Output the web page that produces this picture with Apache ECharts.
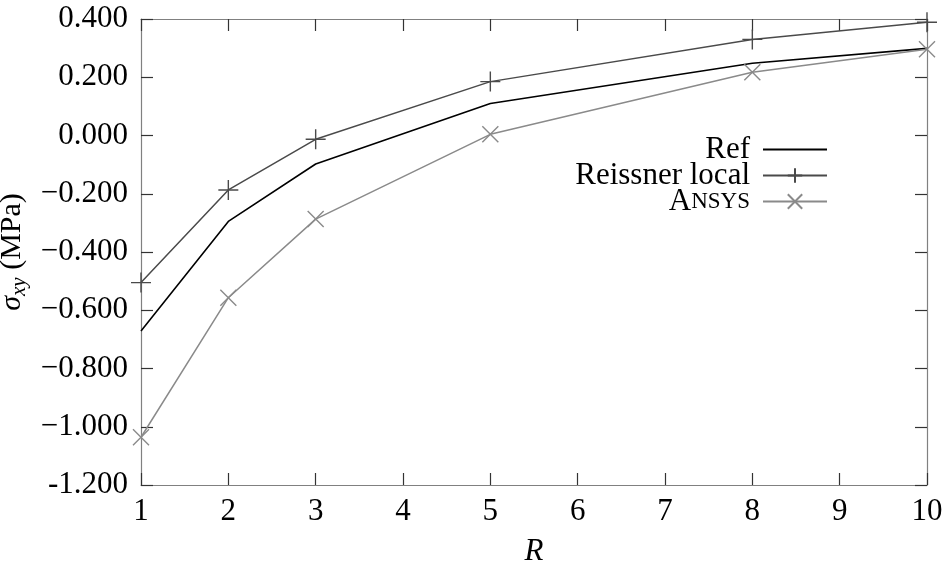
<!DOCTYPE html>
<html>
<head>
<meta charset="utf-8">
<script src="https://cdn.jsdelivr.net/npm/echarts@6/dist/echarts.min.js"></script>
<style>html,body{margin:0;padding:0;background:#fff}#c{width:944px;height:564px}</style>
</head>
<body>
<div id="c"></div>
<script>
var rValues = [1, 2, 3, 5, 8, 10];
var refValues = [-0.671, -0.295, -0.098, 0.110, 0.248, 0.299];
var reissnerValues = [-0.505, -0.187, -0.013, 0.185, 0.330, 0.389];
var ansysValues = [-1.036, -0.557, -0.287, 0.004, 0.217, 0.296];
var xTickLabels = ['1','2','3','4','5','6','7','8','9','10'];
var yTickLabels = ['-1.200','\u22121.000','\u22120.800','\u22120.600','\u22120.400','\u22120.200','0.000','0.200','0.400'];

var FONT = '"Liberation Serif", "DejaVu Serif", serif';
function pairs(vals){ return rValues.map(function(x,i){ return [x, vals[i]]; }); }

var chart = echarts.init(document.getElementById('c'), null, {renderer:'canvas'});
var axisLine = {show:true, onZero:false, lineStyle:{color:'#808080', width:1.2}};
var tick = {show:true, inside:true, length:12, lineStyle:{color:'#333', width:1.2}};
var option = {
  animation:false,
  backgroundColor:'#fff',
  grid:{left:141, right:17, top:19, bottom:79, containLabel:false, outerBoundsMode:'none'},
  xAxis:[{
    type:'value', min:1, max:10, interval:1, position:'bottom',
    axisLine:axisLine, axisTick:tick, splitLine:{show:false},
    axisLabel:{margin:11, color:'#000', fontFamily:FONT, fontSize:31,
      formatter:function(v){ return xTickLabels[Math.round(v)-1]; }},
    name:'R', nameLocation:'middle', nameGap:51,
    nameTextStyle:{fontFamily:FONT, fontSize:31, fontStyle:'italic', color:'#000'}
  },{
    type:'value', min:1, max:10, interval:1, position:'top',
    axisLine:axisLine, axisTick:tick, splitLine:{show:false}, axisLabel:{show:false}
  }],
  yAxis:[{
    type:'value', min:-1.2, max:0.4, interval:0.2, position:'left',
    axisLine:axisLine, axisTick:tick, splitLine:{show:false},
    axisLabel:{margin:13, color:'#000', fontFamily:FONT, fontSize:31,
      formatter:function(v){ return yTickLabels[Math.round((v+1.2)/0.2)]; }},
    name:'{s|\u03c3}{sub|xy}{t| (MPa)}', nameLocation:'middle', nameRotate:90, nameGap:88,
    nameTextStyle:{fontFamily:FONT, color:'#000',
      rich:{
        s:{fontFamily:FONT, fontSize:30, fontStyle:'italic', color:'#000'},
        sub:{fontFamily:FONT, fontSize:21, fontStyle:'italic', color:'#000', padding:[14,0,0,0]},
        t:{fontFamily:FONT, fontSize:30, color:'#000'}
      }}
  },{
    type:'value', min:-1.2, max:0.4, interval:0.2, position:'right',
    axisLine:axisLine, axisTick:tick, splitLine:{show:false}, axisLabel:{show:false}
  }],
  legend:{
    orient:'vertical', right:111, top:129, align:'right',
    itemWidth:64, itemHeight:18, itemGap:-5,
    selectedMode:false,
    textStyle:{fontFamily:FONT, fontSize:31, color:'#000', lineHeight:26, padding:[0,8,0,0],
      rich:{
        a:{fontFamily:FONT, fontSize:31, color:'#000', lineHeight:26},
        b:{fontFamily:FONT, fontSize:23, color:'#000', lineHeight:26}
      }},
    formatter:function(n){ return n === 'Ansys' ? '{a|A}{b|NSYS}' : n; },
    data:[
      {name:'Ref', itemStyle:{color:'transparent', borderColor:'transparent', borderWidth:0}},
      'Reissner local',
      'Ansys'
    ]
  },
  series:[{
    name:'Ref', type:'line', data:pairs(refValues),
    symbol:'circle', symbolSize:0, showSymbol:false,
    lineStyle:{color:'#000', width:1.6},
    itemStyle:{color:'transparent', borderColor:'transparent', borderWidth:0}, silent:true
  },{
    name:'Reissner local', type:'line', data:pairs(reissnerValues),
    symbol:'path://M10,0L10,20M0,10L20,10', symbolSize:20, showSymbol:true,
    lineStyle:{color:'#4a4a4a', width:1.5},
    itemStyle:{color:'transparent', borderColor:'#4a4a4a', borderWidth:1.4}, silent:true
  },{
    name:'Ansys', type:'line', data:pairs(ansysValues),
    symbol:'path://M0,0L20,20M20,0L0,20', symbolSize:16, showSymbol:true,
    lineStyle:{color:'#8a8a8a', width:1.5},
    itemStyle:{color:'transparent', borderColor:'#8a8a8a', borderWidth:1.4}, silent:true
  }]
};
chart.setOption(option);
</script>
</body>
</html>
